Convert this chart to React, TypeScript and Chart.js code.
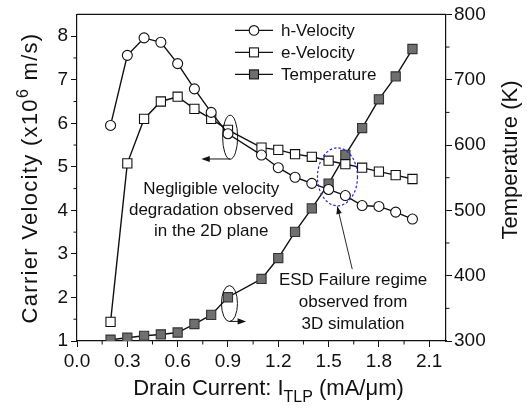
import React, { useEffect, useRef } from "react";
import { Chart, registerables } from "chart.js";
Chart.register(...registerables);

// ---- data ----
const current = [0.2, 0.3, 0.4, 0.5, 0.6, 0.7, 0.8, 0.9, 1.1, 1.2, 1.3, 1.4, 1.5, 1.6, 1.7, 1.8, 1.9, 2.0];
const hVelocity = [5.95, 7.56, 7.96, 7.86, 7.37, 6.79, 6.25, 5.76, 5.27, 4.98, 4.76, 4.62, 4.48, 4.34, 4.11, 4.09, 3.96, 3.8];
const eVelocity = [1.44, 5.08, 6.1, 6.5, 6.61, 6.33, 6.1, 5.85, 5.44, 5.39, 5.29, 5.23, 5.14, 5.06, 4.98, 4.89, 4.81, 4.72];
const temperature = [302, 305, 308, 310, 313, 326, 340, 367, 395, 427, 467, 503, 541, 585, 626, 670, 705, 747];

const xTicks = [0, 0.3, 0.6, 0.9, 1.2, 1.5, 1.8, 2.1];
const xMinorTicks = [0.15, 0.45, 0.75, 1.05, 1.35, 1.65, 1.95];
const velocityTicks = [1, 2, 3, 4, 5, 6, 7, 8];
const velocityMinorTicks = [1.5, 2.5, 3.5, 4.5, 5.5, 6.5, 7.5];
const tempTicks = [300, 400, 500, 600, 700, 800];
const tempMinorTicks = [350, 450, 550, 650, 750];

const seriesLabels = ["h-Velocity", "e-Velocity", "Temperature"];
const noteVelocity = ["Negligible velocity", "degradation observed", "in the 2D plane"];
const noteEsd = ["ESD Failure regime", "observed from", "3D simulation"];

const FONT = '"Liberation Sans", Arial, Helvetica, sans-serif';
const INK = "#111";

function arrowHead(ctx: CanvasRenderingContext2D, x1: number, y1: number, x2: number, y2: number, size: number) {
  const ang = Math.atan2(y2 - y1, x2 - x1);
  ctx.beginPath();
  ctx.moveTo(x2, y2);
  ctx.lineTo(x2 - size * Math.cos(ang - 0.35), y2 - size * Math.sin(ang - 0.35));
  ctx.lineTo(x2 - size * Math.cos(ang + 0.35), y2 - size * Math.sin(ang + 0.35));
  ctx.closePath();
  ctx.fill();
}

const decorPlugin = {
  id: "decor",
  afterDatasetsDraw(chart: any) {
    const { ctx, chartArea: a, scales } = chart;
    const xs = scales.x, ys = scales.y, ts = scales.y2;
    const X = (v: number) => xs.getPixelForValue(v);
    const Y = (v: number) => ys.getPixelForValue(v);
    ctx.save();
    ctx.strokeStyle = INK;
    ctx.fillStyle = INK;
    // top frame
    ctx.lineWidth = 1.2;
    ctx.beginPath();
    ctx.moveTo(a.left, a.top);
    ctx.lineTo(a.right, a.top);
    ctx.stroke();
    // minor ticks
    ctx.lineWidth = 1;
    ctx.beginPath();
    xMinorTicks.forEach((v) => { const p = X(v); ctx.moveTo(p, a.bottom); ctx.lineTo(p, a.bottom + 3.5); });
    velocityMinorTicks.forEach((v) => { const p = Y(v); ctx.moveTo(a.left - 3.5, p); ctx.lineTo(a.left, p); });
    tempMinorTicks.forEach((v) => { const p = ts.getPixelForValue(v); ctx.moveTo(a.right, p); ctx.lineTo(a.right + 3.5, p); });
    ctx.stroke();

    // ellipse 1 (velocity, arrow to left)
    ctx.lineWidth = 1;
    let cx = X(0.913), cy = Y(5.68);
    ctx.beginPath();
    ctx.ellipse(cx, cy, 7.5, 22, 0, 0, Math.PI * 2);
    ctx.stroke();
    let ay = Y(5.18), ax2 = X(0.741);
    ctx.beginPath();
    ctx.moveTo(cx, ay);
    ctx.lineTo(ax2 + 6, ay);
    ctx.stroke();
    arrowHead(ctx, cx, ay, ax2, ay, 9);

    // ellipse 2 (temperature, arrow to right)
    cx = X(0.909); cy = Y(1.86);
    ctx.beginPath();
    ctx.ellipse(cx, cy, 8, 18, 0, 0, Math.PI * 2);
    ctx.stroke();
    ay = Y(1.45); ax2 = X(1.008);
    ctx.beginPath();
    ctx.moveTo(cx, ay);
    ctx.lineTo(ax2 - 6, ay);
    ctx.stroke();
    arrowHead(ctx, cx, ay, ax2, ay, 9);

    // blue dotted ellipse
    ctx.save();
    ctx.strokeStyle = "#2a2ad0";
    ctx.lineWidth = 1.2;
    ctx.setLineDash([2.5, 2]);
    ctx.beginPath();
    ctx.ellipse(X(1.553), Y(4.77), 20, 29, 0, 0, Math.PI * 2);
    ctx.stroke();
    ctx.restore();

    // ESD arrow
    const ex1 = X(1.641), ey1 = Y(2.65), ex2 = X(1.552), ey2 = Y(4.09);
    ctx.lineWidth = 0.9;
    ctx.beginPath();
    ctx.moveTo(ex1, ey1);
    ctx.lineTo(ex2, ey2);
    ctx.stroke();
    arrowHead(ctx, ex1, ey1, ex2, ey2, 8);

    // notes
    ctx.font = `17px ${FONT}`;
    ctx.textAlign = "center";
    ctx.textBaseline = "middle";
    ctx.fillStyle = INK;
    noteVelocity.forEach((t, i) => ctx.fillText(t, X(0.8), Y(4.48) + i * 21));
    noteEsd.forEach((t, i) => ctx.fillText(t, X(1.646), Y(2.39) + i * 22));

    // legend
    const styles = ["circle", "open", "filled"];
    styles.forEach((s, i) => {
      const ly = a.top + 16 + 22 * i;
      const lx1 = a.left + 158, lx2 = a.left + 196, mx = a.left + 177;
      ctx.strokeStyle = INK;
      ctx.lineWidth = 1.3;
      ctx.beginPath();
      ctx.moveTo(lx1, ly);
      ctx.lineTo(lx2, ly);
      ctx.stroke();
      ctx.lineWidth = 1.1;
      if (s === "circle") {
        ctx.beginPath();
        ctx.arc(mx, ly, 4.8, 0, Math.PI * 2);
        ctx.fillStyle = "#fff";
        ctx.fill();
        ctx.stroke();
      } else {
        ctx.fillStyle = s === "open" ? "#fff" : "#6f6f6f";
        ctx.fillRect(mx - 4.5, ly - 4.5, 9, 9);
        ctx.strokeRect(mx - 4.5, ly - 4.5, 9, 9);
      }
      ctx.fillStyle = INK;
      ctx.textAlign = "left";
      ctx.textBaseline = "middle";
      ctx.font = `17px ${FONT}`;
      ctx.fillText(seriesLabels[i], a.left + 204, ly + 1);
    });
    ctx.restore();
  },
  afterDraw(chart: any) {
    const { ctx, chartArea: a } = chart;
    ctx.save();
    ctx.fillStyle = INK;
    ctx.textBaseline = "alphabetic";
    // x title with subscript
    const main = 22, sub = 16;
    const p1 = "Drain Current: I", p2 = "TLP", p3 = " (mA/\u03bcm)";
    ctx.font = `${main}px ${FONT}`;
    const w1 = ctx.measureText(p1).width, w3 = ctx.measureText(p3).width;
    ctx.font = `${sub}px ${FONT}`;
    const w2 = ctx.measureText(p2).width;
    const total = w1 + w2 + w3;
    const cxT = (a.left + a.right) / 2 + 7;
    let x0 = cxT - total / 2;
    const base = 395;
    ctx.textAlign = "left";
    ctx.font = `${main}px ${FONT}`;
    ctx.fillText(p1, x0, base);
    ctx.font = `${sub}px ${FONT}`;
    ctx.fillText(p2, x0 + w1, base + 6.5);
    ctx.font = `${main}px ${FONT}`;
    ctx.fillText(p3, x0 + w1 + w2, base);

    // left title with superscript (slightly spaced letters)
    const q1 = "Carrier Velocity (x10", q2 = "6", q3 = " m/s)";
    ctx.save();
    ctx.translate(37, 178);
    ctx.rotate(-Math.PI / 2);
    const sp = 1.3;
    const lsCtx: any = ctx;
    lsCtx.letterSpacing = `${sp}px`;
    ctx.font = `${main}px ${FONT}`;
    const v1 = ctx.measureText(q1).width, v3 = ctx.measureText(q3).width;
    ctx.font = `${sub}px ${FONT}`;
    const v2 = ctx.measureText(q2).width;
    let s0 = -(v1 + v2 + v3) / 2;
    ctx.font = `${main}px ${FONT}`;
    ctx.fillText(q1, s0, 0);
    ctx.font = `${sub}px ${FONT}`;
    ctx.fillText(q2, s0 + v1, -9);
    ctx.font = `${main}px ${FONT}`;
    ctx.fillText(q3, s0 + v1 + v2, 0);
    lsCtx.letterSpacing = "0px";
    ctx.restore();

    // right title
    ctx.save();
    ctx.translate(517, 160);
    ctx.rotate(-Math.PI / 2);
    ctx.textAlign = "center";
    ctx.font = `${main}px ${FONT}`;
    ctx.fillText("Temperature (K)", 0, 0);
    ctx.restore();
    ctx.restore();
  },
};

const tickFont = { family: FONT, size: 19 };

export default function App() {
  const ref = useRef<HTMLCanvasElement>(null);
  useEffect(() => {
    document.body.style.margin = "0";
    const chart = new Chart(ref.current as HTMLCanvasElement, {
      type: "line",
      data: {
        datasets: [
          {
            label: seriesLabels[0],
            data: current.map((c, i) => ({ x: c, y: hVelocity[i] })),
            yAxisID: "y",
            borderColor: INK,
            borderWidth: 1.4,
            pointStyle: "circle",
            pointRadius: 5,
            pointBackgroundColor: "#fff",
            pointBorderColor: INK,
            pointBorderWidth: 1.1,
            tension: 0,
          },
          {
            label: seriesLabels[1],
            data: current.map((c, i) => ({ x: c, y: eVelocity[i] })),
            yAxisID: "y",
            borderColor: INK,
            borderWidth: 1.4,
            pointStyle: "rect",
            pointRadius: 6.5,
            pointBackgroundColor: "#fff",
            pointBorderColor: INK,
            pointBorderWidth: 1.1,
            tension: 0,
          },
          {
            label: seriesLabels[2],
            data: current.map((c, i) => ({ x: c, y: temperature[i] })),
            yAxisID: "y2",
            borderColor: INK,
            borderWidth: 1.4,
            pointStyle: "rect",
            pointRadius: 6.5,
            pointBackgroundColor: "#6f6f6f",
            pointBorderColor: "#333",
            pointBorderWidth: 1.1,
            tension: 0,
          },
        ],
      } as any,
      options: {
        responsive: false,
        animation: false,
        layout: { padding: { top: 11, left: 0, right: 0, bottom: 0 } },
        plugins: { legend: { display: false }, tooltip: { enabled: false }, title: { display: false } },
        scales: {
          x: {
            type: "linear",
            position: "bottom",
            min: 0,
            max: 2.2,
            afterBuildTicks: (s: any) => { s.ticks = xTicks.map((v) => ({ value: v })); },
            afterFit: (s: any) => { s.height = 68; },
            ticks: { font: tickFont, color: INK, padding: 3, maxRotation: 0, autoSkip: false, callback: (v: any) => Number(v).toFixed(1) },
            grid: { drawOnChartArea: false, tickLength: 6, color: INK },
            border: { color: INK, width: 1.2 },
          },
          y: {
            type: "linear",
            position: "left",
            min: 1,
            max: 8.5,
            afterBuildTicks: (s: any) => { s.ticks = velocityTicks.map((v) => ({ value: v })); },
            afterFit: (s: any) => { s.width = 77; },
            ticks: { font: tickFont, color: INK, padding: 3, callback: (v: any) => String(v) },
            grid: { drawOnChartArea: false, tickLength: 6, color: INK },
            border: { color: INK, width: 1.2 },
          },
          y2: {
            type: "linear",
            position: "right",
            min: 300,
            max: 800,
            afterBuildTicks: (s: any) => { s.ticks = tempTicks.map((v) => ({ value: v })); },
            afterFit: (s: any) => { s.width = 81; },
            ticks: { font: tickFont, color: INK, padding: 2, callback: (v: any) => String(v) },
            grid: { drawOnChartArea: false, tickLength: 6, color: INK },
            border: { color: INK, width: 1.2 },
          },
        },
      } as any,
      plugins: [decorPlugin],
    });
    return () => chart.destroy();
  }, []);
  return <canvas ref={ref} width={527} height={409} style={{ display: "block" }} />;
}
